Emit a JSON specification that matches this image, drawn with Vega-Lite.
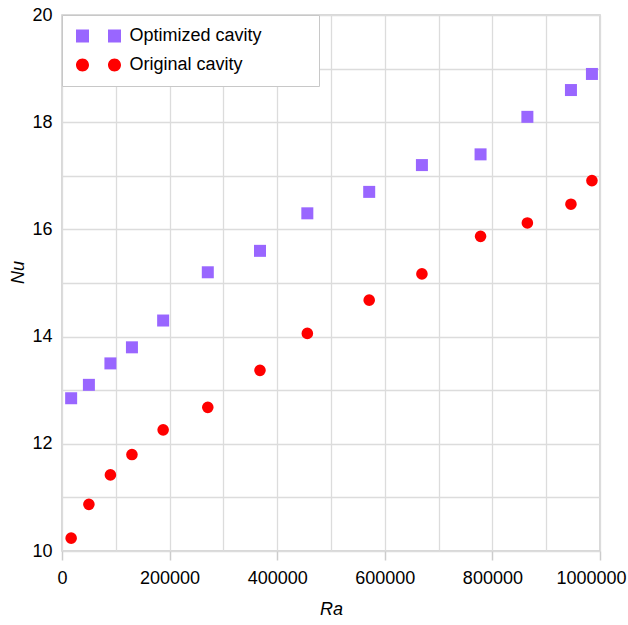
{
  "$schema": "https://vega.github.io/schema/vega-lite/v6.json",
  "autosize": "none",
  "padding": {"left": 62, "top": 15, "right": 28, "bottom": 74},
  "width": 538,
  "height": 536,
  "background": "white",
  "config": {
    "font": "Liberation Sans",
    "view": {"stroke": "#cccccc", "strokeWidth": 1.5},
    "legend": {
      "orient": "top-left",
      "offset": 0,
      "padding": 12,
      "fillColor": "white",
      "strokeColor": "#c8c8c8",
      "labelFontSize": 18,
      "labelColor": "#000000",
      "labelFont": "Liberation Sans",
      "labelLimit": 400,
      "symbolSize": 169,
      "symbolOffset": 15.5,
      "symbolOpacity": 1,
      "symbolStrokeWidth": 0,
      "labelOffset": 22,
      "rowPadding": 11,
      "titleOrient": "right",
      "titleFontSize": 18,
      "titleFontWeight": "normal",
      "titleColor": "transparent",
      "titlePadding": 4
    }
  },
  "data": {
    "values": [
      {"Ra": 17000, "Nu": 12.85, "series": "Optimized cavity"},
      {"Ra": 50000, "Nu": 13.1, "series": "Optimized cavity"},
      {"Ra": 90000, "Nu": 13.5, "series": "Optimized cavity"},
      {"Ra": 130000, "Nu": 13.8, "series": "Optimized cavity"},
      {"Ra": 188000, "Nu": 14.3, "series": "Optimized cavity"},
      {"Ra": 271000, "Nu": 15.2, "series": "Optimized cavity"},
      {"Ra": 368000, "Nu": 15.6, "series": "Optimized cavity"},
      {"Ra": 456000, "Nu": 16.3, "series": "Optimized cavity"},
      {"Ra": 571000, "Nu": 16.7, "series": "Optimized cavity"},
      {"Ra": 669000, "Nu": 17.2, "series": "Optimized cavity"},
      {"Ra": 778000, "Nu": 17.4, "series": "Optimized cavity"},
      {"Ra": 865000, "Nu": 18.1, "series": "Optimized cavity"},
      {"Ra": 946000, "Nu": 18.6, "series": "Optimized cavity"},
      {"Ra": 985000, "Nu": 18.9, "series": "Optimized cavity"},
      {"Ra": 17000, "Nu": 10.24, "series": "Original cavity"},
      {"Ra": 50000, "Nu": 10.87, "series": "Original cavity"},
      {"Ra": 90000, "Nu": 11.42, "series": "Original cavity"},
      {"Ra": 130000, "Nu": 11.8, "series": "Original cavity"},
      {"Ra": 188000, "Nu": 12.26, "series": "Original cavity"},
      {"Ra": 271000, "Nu": 12.68, "series": "Original cavity"},
      {"Ra": 368000, "Nu": 13.37, "series": "Original cavity"},
      {"Ra": 456000, "Nu": 14.06, "series": "Original cavity"},
      {"Ra": 571000, "Nu": 14.68, "series": "Original cavity"},
      {"Ra": 669000, "Nu": 15.17, "series": "Original cavity"},
      {"Ra": 778000, "Nu": 15.87, "series": "Original cavity"},
      {"Ra": 865000, "Nu": 16.12, "series": "Original cavity"},
      {"Ra": 946000, "Nu": 16.47, "series": "Original cavity"},
      {"Ra": 985000, "Nu": 16.91, "series": "Original cavity"}
    ]
  },
  "encoding": {
    "x": {
      "field": "Ra",
      "type": "quantitative",
      "scale": {"domain": [0, 1000000], "nice": false, "zero": false},
      "axis": {
        "title": "Ra",
        "titleFont": "Liberation Sans",
        "titleFontStyle": "italic",
        "titleFontWeight": "normal",
        "titleFontSize": 18,
        "titleColor": "#000000",
        "titlePadding": 13,
        "values": [0, 100000, 200000, 300000, 400000, 500000, 600000, 700000, 800000, 900000, 1000000],
        "format": "d",
        "labelExpr": "datum.value % 200000 === 0 ? datum.label : ''",
        "labelFontSize": 18,
        "labelColor": "#000000",
        "labelPadding": 9,
        "labelOffset": {"expr": "datum.value === 1000000 ? -9 : 0"},
        "labelFlush": false,
        "labelOverlap": false,
        "domain": false,
        "ticks": true,
        "tickSize": 9,
        "tickWidth": 1.5,
        "tickColor": {"expr": "datum.value % 200000 === 0 ? '#cccccc' : 'transparent'"},
        "grid": true,
        "gridColor": "#dcdcdc",
        "gridWidth": 1.3
      }
    },
    "y": {
      "field": "Nu",
      "type": "quantitative",
      "scale": {"domain": [10, 20], "nice": false, "zero": false},
      "axis": {
        "title": "Nu",
        "titleFont": "Liberation Sans",
        "titleFontStyle": "italic",
        "titleFontWeight": "normal",
        "titleFontSize": 18,
        "titleColor": "#000000",
        "titlePadding": 4,
        "titleY": 257,
        "values": [10, 11, 12, 13, 14, 15, 16, 17, 18, 19, 20],
        "labelExpr": "datum.value % 2 === 0 ? datum.label : ''",
        "labelFontSize": 18,
        "labelColor": "#000000",
        "labelPadding": 10,
        "domain": false,
        "ticks": false,
        "grid": true,
        "gridColor": "#dcdcdc",
        "gridWidth": 1.3
      }
    },
    "color": {
      "field": "series",
      "type": "nominal",
      "scale": {"domain": ["Optimized cavity", "Original cavity"], "range": ["#9966ff", "#ff0000"]},
      "legend": {"title": "........"}
    }
  },
  "layer": [
    {
      "description": "Legend carrier: paired-marker symbols for the legend, drawn invisibly in the plot",
      "mark": {"type": "point", "filled": true, "opacity": 0},
      "encoding": {
        "shape": {
          "field": "series",
          "type": "nominal",
          "scale": {
            "domain": ["Optimized cavity", "Original cavity"],
            "range": [
              "M-3.4615,-1H-1.4615V1H-3.4615Z M1.4615,-1H3.4615V1H1.4615Z",
              "M-1.4615,0A1,1,0,1,1,-3.4615,0A1,1,0,1,1,-1.4615,0Z M3.4615,0A1,1,0,1,1,1.4615,0A1,1,0,1,1,3.4615,0Z"
            ]
          },
          "legend": {"title": "........"}
        }
      }
    },
    {
      "transform": [{"filter": "datum.series === 'Optimized cavity'"}],
      "mark": {"type": "point", "shape": "square", "filled": true, "opacity": 1, "size": 144}
    },
    {
      "transform": [{"filter": "datum.series === 'Original cavity'"}],
      "mark": {"type": "point", "shape": "circle", "filled": true, "opacity": 1, "size": 135}
    }
  ]
}
